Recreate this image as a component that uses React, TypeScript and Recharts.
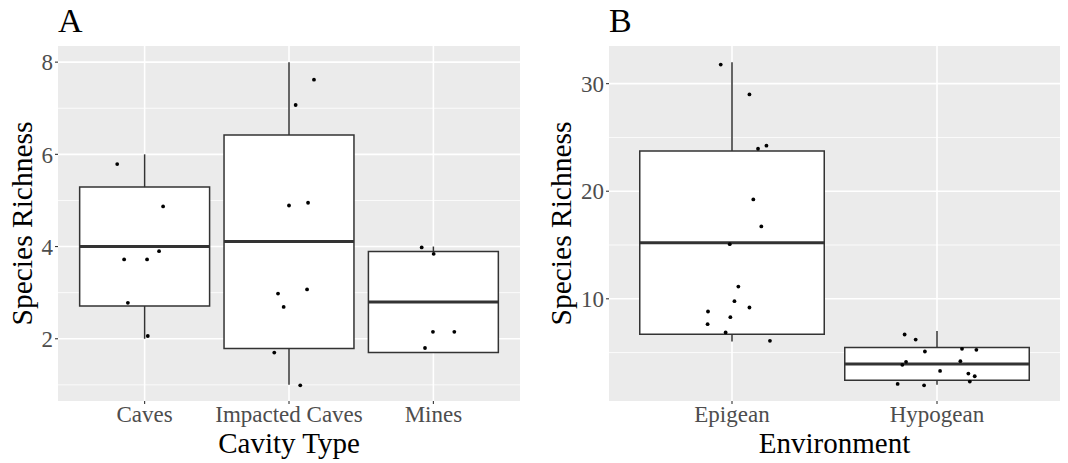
import React from "react";
import {
  ComposedChart,
  Scatter,
  XAxis,
  YAxis,
  CartesianGrid,
  ReferenceArea,
  ReferenceLine,
} from "recharts";

const FONT = '"Liberation Serif", "Times New Roman", serif';

// Panel A: cavity type
const cavityTypes = ["Caves", "Impacted Caves", "Mines"];
const cavityMin = [2.0, 1.0, 1.7];
const cavityQ1 = [2.71, 1.79, 1.7];
const cavityMedian = [4.0, 4.11, 2.8];
const cavityQ3 = [5.29, 6.42, 3.89];
const cavityMax = [6.0, 8.0, 4.0];
const cavityPointX = [
  0.81, 1.128, 1.1, 0.858, 1.017, 0.884, 1.022,
  2.173, 2.046, 2.0, 2.132, 1.924, 2.125, 1.963, 1.898, 2.078,
  2.919, 3.002, 2.997, 3.145, 2.942,
];
const cavityPointY = [
  5.79, 4.87, 3.9, 3.72, 3.72, 2.78, 2.06,
  7.62, 7.07, 4.89, 4.95, 2.98, 3.07, 2.69, 1.7, 0.99,
  3.98, 3.84, 2.15, 2.15, 1.8,
];
const cavityTicks = [2, 4, 6, 8];
const cavityMinor = [1, 3, 5, 7];

// Panel B: environment
const environments = ["Epigean", "Hypogean"];
const envMin = [6.03, 2.0];
const envQ1 = [6.71, 2.43];
const envMedian = [15.21, 3.95];
const envQ3 = [23.73, 5.47];
const envMax = [32.0, 7.0];
const envPointX = [
  0.945, 1.085, 1.127, 1.168, 1.104, 1.143, 0.989, 1.031, 1.012, 1.085,
  0.883, 0.992, 0.881, 0.969, 1.185,
  1.842, 1.896, 1.941, 2.122, 2.192, 1.849, 1.831, 2.114, 2.015, 2.153,
  2.184, 2.16, 1.808, 1.937,
];
const envPointY = [
  31.77, 29.0, 23.95, 24.23, 19.24, 16.73, 15.08, 11.14, 9.78, 9.19,
  8.82, 8.29, 7.64, 6.87, 6.09,
  6.68, 6.21, 5.1, 5.35, 5.26, 4.14, 3.86, 4.2, 3.3, 3.05,
  2.8, 2.31, 2.09, 1.96,
];
const envTicks = [10, 20, 30];
const envMinor = [5, 15, 25];

interface PanelProps {
  tag: string;
  xTitle: string;
  categories: string[];
  mins: number[];
  q1s: number[];
  medians: number[];
  q3s: number[];
  maxs: number[];
  px: number[];
  py: number[];
  yDomain: [number, number];
  yTicks: number[];
  yMinor: number[];
  axisWidth: number;
  rightMargin: number;
  yTitleX: number;
}

const Dot = (props: any) => <circle cx={props.cx} cy={props.cy} r={1.9} fill="#000" />;

const BoxPanel = (p: PanelProps) => {
  const W = 534;
  const H = 463;
  const n = p.categories.length;
  const points = p.px.map((x, i) => ({ x, y: p.py[i] }));
  const xTicks = p.categories.map((_, i) => i + 1);
  const plotLeft = p.axisWidth;
  const plotRight = W - p.rightMargin;
  const midX = (plotLeft + plotRight) / 2;
  const midY = (46 + 401) / 2;

  return (
    <div style={{ position: "relative", width: W, height: H }}>
      <ComposedChart
        width={W}
        height={H}
        data={points}
        margin={{ top: 46, right: p.rightMargin, bottom: 32, left: 0 }}
      >
        <CartesianGrid
          fill="#EBEBEB"
          stroke="#FFFFFF"
          strokeWidth={0.8}
          vertical={false}
          horizontalValues={p.yMinor}
        />
        <CartesianGrid
          stroke="#FFFFFF"
          strokeWidth={1.6}
          horizontalValues={p.yTicks}
          verticalValues={xTicks}
        />
        <XAxis
          type="number"
          dataKey="x"
          domain={[0.4, n + 0.6]}
          ticks={xTicks}
          allowDataOverflow
          axisLine={false}
          tickSize={3}
          tickMargin={0}
          height={30}
          tickLine={{ stroke: "#333333", strokeWidth: 1.1 }}
          tick={(t: any) => (
            <text
              x={t.x}
              y={t.y + 17.5}
              textAnchor="middle"
              fill="#4D4D4D"
              fontSize={23}
              fontFamily={FONT}
            >
              {p.categories[t.payload.value - 1]}
            </text>
          )}
        />
        <YAxis
          type="number"
          dataKey="y"
          domain={p.yDomain}
          ticks={p.yTicks}
          allowDataOverflow
          width={p.axisWidth}
          axisLine={false}
          tickSize={3}
          tickMargin={2}
          tickLine={{ stroke: "#333333", strokeWidth: 1.1 }}
          tick={{ fill: "#4D4D4D", fontSize: 23, fontFamily: FONT }}
        />
        {p.categories.map((c, i) => (
          <ReferenceLine
            key={c + "-hi"}
            segment={[
              { x: i + 1, y: p.q3s[i] },
              { x: i + 1, y: p.maxs[i] },
            ]}
            stroke="#333333"
            strokeWidth={1.5}
          />
        ))}
        {p.categories.map((c, i) => (
          <ReferenceLine
            key={c + "-lo"}
            segment={[
              { x: i + 1, y: p.q1s[i] },
              { x: i + 1, y: p.mins[i] },
            ]}
            stroke="#333333"
            strokeWidth={1.5}
          />
        ))}
        {p.categories.map((c, i) => (
          <ReferenceArea
            key={c + "-box"}
            x1={i + 0.55}
            x2={i + 1.45}
            y1={p.q1s[i]}
            y2={p.q3s[i]}
            fill="#FFFFFF"
            fillOpacity={1}
            stroke="#333333"
            strokeWidth={1.5}
          />
        ))}
        {p.categories.map((c, i) => (
          <ReferenceLine
            key={c + "-med"}
            segment={[
              { x: i + 0.55, y: p.medians[i] },
              { x: i + 1.45, y: p.medians[i] },
            ]}
            stroke="#333333"
            strokeWidth={3}
          />
        ))}
        <Scatter dataKey="y" shape={Dot} isAnimationActive={false} />
      </ComposedChart>
      <svg
        width={W}
        height={H}
        style={{ position: "absolute", left: 0, top: 0, pointerEvents: "none" }}
      >
        <text x={plotLeft} y={32} fontSize={34} fontFamily={FONT} fill="#000">
          {p.tag}
        </text>
        <text
          x={midX}
          y={452.5}
          textAnchor="middle"
          fontSize={29}
          fontFamily={FONT}
          fill="#000"
        >
          {p.xTitle}
        </text>
        <text
          transform={`translate(${p.yTitleX}, ${midY}) rotate(-90)`}
          textAnchor="middle"
          fontSize={29.5}
          fontFamily={FONT}
          fill="#000"
        >
          Species Richness
        </text>
      </svg>
    </div>
  );
};

export default function App() {
  return (
    <div
      style={{
        position: "absolute",
        left: 0,
        top: 0,
        width: 1068,
        height: 463,
        background: "#FFFFFF",
        display: "flex",
      }}
    >
      <BoxPanel
        tag="A"
        xTitle="Cavity Type"
        categories={cavityTypes}
        mins={cavityMin}
        q1s={cavityQ1}
        medians={cavityMedian}
        q3s={cavityQ3}
        maxs={cavityMax}
        px={cavityPointX}
        py={cavityPointY}
        yDomain={[0.65, 8.35]}
        yTicks={cavityTicks}
        yMinor={cavityMinor}
        axisWidth={58}
        rightMargin={14}
        yTitleX={32}
      />
      <BoxPanel
        tag="B"
        xTitle="Environment"
        categories={environments}
        mins={envMin}
        q1s={envQ1}
        medians={envMedian}
        q3s={envQ3}
        maxs={envMax}
        px={envPointX}
        py={envPointY}
        yDomain={[0.5, 33.5]}
        yTicks={envTicks}
        yMinor={envMinor}
        axisWidth={75}
        rightMargin={8}
        yTitleX={37}
      />
    </div>
  );
}
